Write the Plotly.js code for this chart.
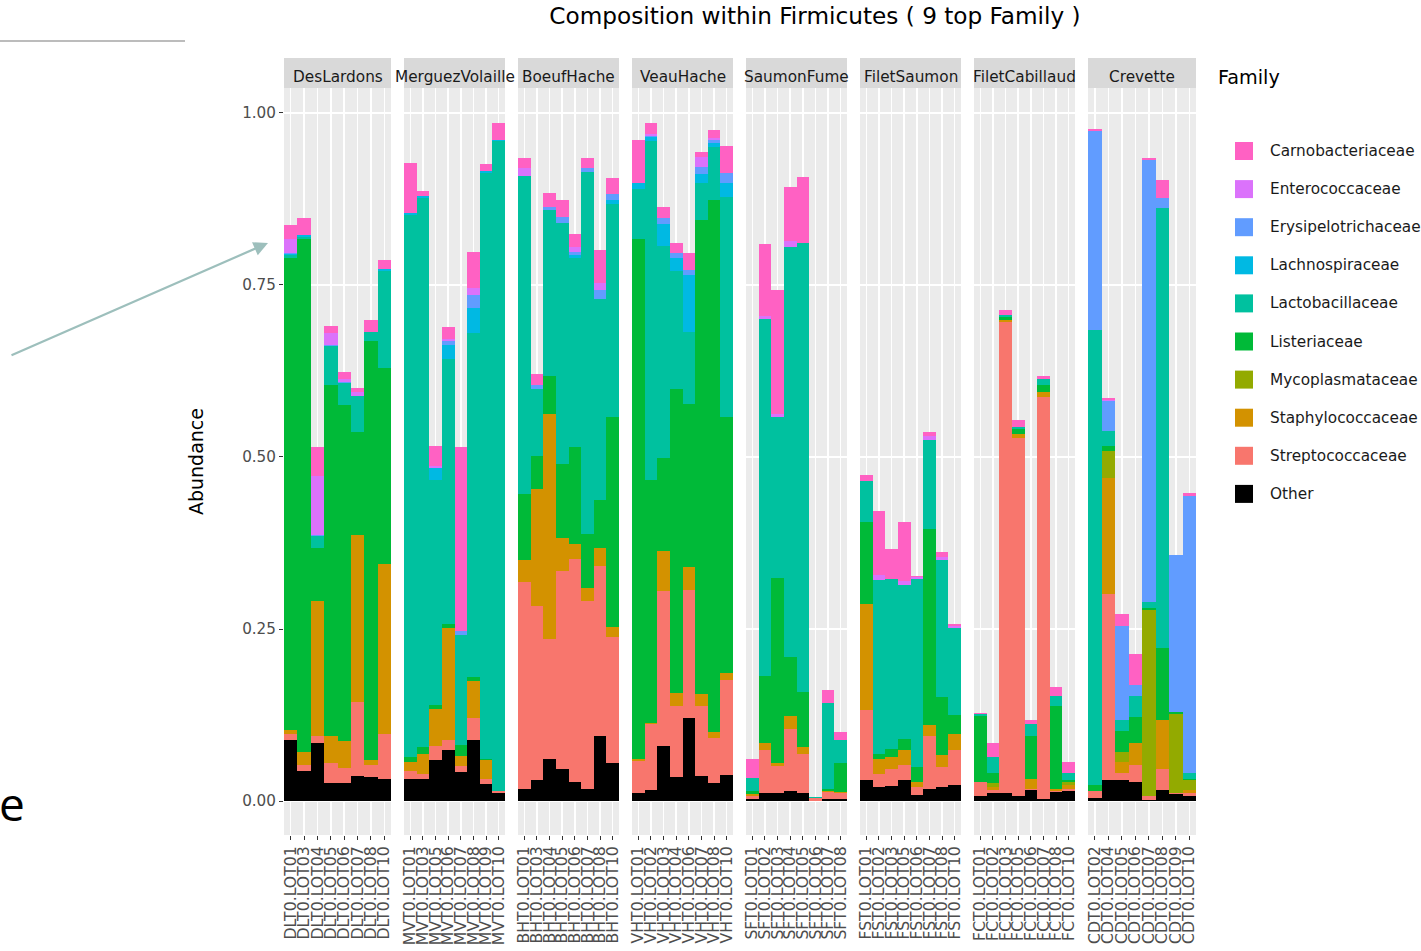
<!DOCTYPE html>
<html>
<head>
<meta charset="utf-8">
<script src="https://cdn.plot.ly/plotly-3.0.1.min.js"></script>
<style>html,body{margin:0;padding:0;background:#fff;}#chart{width:1421px;height:951px;}</style>
</head>
<body>
<div id="chart"></div>
<script>
// ---------------- DATA ----------------
const facets = ["DesLardons","MerguezVolaille","BoeufHache","VeauHache","SaumonFume","FiletSaumon","FiletCabillaud","Crevette"];

const samples = [
 "DLT0.LOT01","DLT0.LOT03","DLT0.LOT04","DLT0.LOT05","DLT0.LOT06","DLT0.LOT07","DLT0.LOT08","DLT0.LOT10",
 "MVT0.LOT01","MVT0.LOT03","MVT0.LOT05","MVT0.LOT06","MVT0.LOT07","MVT0.LOT08","MVT0.LOT09","MVT0.LOT10",
 "BHT0.LOT01","BHT0.LOT03","BHT0.LOT04","BHT0.LOT05","BHT0.LOT06","BHT0.LOT07","BHT0.LOT08","BHT0.LOT10",
 "VHT0.LOT01","VHT0.LOT02","VHT0.LOT03","VHT0.LOT04","VHT0.LOT06","VHT0.LOT07","VHT0.LOT08","VHT0.LOT10",
 "SFT0.LOT01","SFT0.LOT02","SFT0.LOT03","SFT0.LOT04","SFT0.LOT05","SFT0.LOT06","SFT0.LOT07","SFT0.LOT08",
 "FST0.LOT01","FST0.LOT02","FST0.LOT03","FST0.LOT05","FST0.LOT06","FST0.LOT07","FST0.LOT08","FST0.LOT10",
 "FCT0.LOT01","FCT0.LOT02","FCT0.LOT03","FCT0.LOT05","FCT0.LOT06","FCT0.LOT07","FCT0.LOT08","FCT0.LOT10",
 "CDT0.LOT02","CDT0.LOT04","CDT0.LOT05","CDT0.LOT06","CDT0.LOT07","CDT0.LOT08","CDT0.LOT09","CDT0.LOT10"
];

// Legend order (top to bottom)
const families = ["Carnobacteriaceae","Enterococcaceae","Erysipelotrichaceae","Lachnospiraceae","Lactobacillaceae","Listeriaceae","Mycoplasmataceae","Staphylococcaceae","Streptococcaceae","Other"];
const familyColors = ["#FF61C3","#DB72FB","#619CFF","#00B9E3","#00C19F","#00BA38","#93AA00","#D39200","#F8766D","#000000"];

// values per family, samples in the order above
const other = [
 .089,.044,.084,.026,.026,.037,.035,.032,
 .032,.032,.059,.074,.042,.089,.025,.011,
 .018,.030,.061,.046,.028,.018,.094,.055,
 .011,.016,.080,.035,.120,.036,.026,.038,
 .003,.011,.011,.014,.011,0,.003,.003,
 .030,.020,.022,.030,.009,.018,.020,.023,
 .007,.011,.012,.007,.016,.003,.013,.014,
 .005,.030,.030,.028,.002,.016,.010,.007];
const streptococcaceae = [
 .008,.009,.010,.029,.022,.107,.018,.065,
 .011,.007,.021,.014,.009,.031,.007,.004,
 .300,.253,.175,.288,.324,.273,.248,.183,
 .047,.096,.225,.103,.186,.102,.065,.138,
 .005,.063,.040,.091,.058,.004,.010,.008,
 .102,.019,.024,.023,.011,.077,.029,.051,
 .021,.005,.684,.521,.002,.584,.002,.004,
 .009,.271,.011,.025,.005,.030,.002,.004];
const staphylococcaceae = [
 .006,.018,.197,.039,.039,.243,.006,.248,
 .013,.029,.054,.164,.015,.054,.027,0,
 .033,.170,.327,.048,.021,.018,.026,.015,
 .003,.002,.059,.019,.034,.017,.009,.010,
 .002,.010,.004,.019,.010,0,.002,.002,
 .154,.022,.018,.021,.008,.015,.018,.023,
 0,.004,.003,.005,.014,.008,.002,.005,
 0,.169,.015,.031,0,.072,0,.005];
const mycoplasmataceae = [
 0,0,0,0,0,0,0,0,
 0,0,0,0,0,0,0,0,
 0,0,0,0,0,0,0,0,
 0,0,0,0,0,0,0,0,
 0,0,0,0,0,0,0,0,
 0,0,0,0,0,0,0,0,
 0,.006,0,0,0,0,0,.004,
 0,.038,.015,0,.271,0,.115,.014];
const listeriaceae = [
 .686,.746,.077,.511,.489,.149,.609,.285,
 .008,.010,.006,.005,.016,.006,.002,0,
 .095,.049,.054,.108,.142,.079,.070,.305,
 .756,.353,.134,.442,.237,.689,.773,.372,
 .004,.097,.269,.086,.079,0,.002,.042,
 .120,.007,.012,.016,.021,.286,.084,.028,
 .096,.015,.004,.008,.062,.009,.121,.003,
 .009,.008,.031,.038,.003,.104,.003,.002];
const lactobacillaceae = [
 .004,.003,.017,.056,.031,.052,.013,.140,
 .787,.799,.327,.386,.160,.500,.852,.944,
 .463,.097,.242,.350,.274,.526,.292,.309,
 .073,.492,.309,.171,.105,.054,.078,.320,
 .019,.520,.234,.595,.653,.002,.126,.034,
 .059,.253,.246,.224,.273,.128,.199,.126,
 .002,.023,.003,.002,.018,.010,.015,.011,
 .661,.022,.016,.031,.008,.640,0,.009];
const lachnospiraceae = [
 .002,.003,0,0,0,0,0,.003,
 .004,.003,.017,.020,0,.036,.002,.002,
 0,0,0,0,.005,0,0,.006,
 .008,.006,.031,.019,.082,.013,.006,.020,
 0,0,0,0,0,0,0,0,
 0,0,0,0,0,0,0,0,
 0,0,0,0,0,0,0,0,
 0,0,0,0,0,0,0,0];
const erysipelotrichaceae = [
 .001,0,.002,.002,.002,0,0,0,
 0,0,0,.005,.005,.020,0,0,
 0,.005,.005,.009,.004,.006,.013,.009,
 0,.002,.009,.007,.008,.010,.004,.015,
 0,0,0,0,0,0,0,0,
 0,0,0,0,0,0,0,0,
 0,0,0,0,0,0,0,0,
 .290,.043,.137,.015,.643,.014,.227,.403];
const enterococcaceae = [
 .021,0,.085,.017,.004,.006,0,0,
 0,0,.003,.004,0,.009,0,0,
 .011,0,0,0,.007,0,.010,0,
 0,.003,0,0,0,.015,.002,0,
 0,.004,.005,.009,0,0,0,0,
 0,.007,0,.006,.003,.006,.005,.003,
 0,0,0,0,0,0,0,0,
 0,.002,0,0,0,0,0,0];
const carnobacteriaceae = [
 .020,.024,.043,.010,.011,.006,.018,.014,
 .073,.006,.029,.017,.268,.053,.011,.024,
 .014,.016,.020,.025,.019,.014,.048,.023,
 .063,.015,.017,.015,.024,.007,.012,.039,
 .028,.104,.179,.079,.096,0,.018,.012,
 .009,.093,.044,.086,.002,.006,.007,.003,
 .002,.020,.007,.011,.006,.004,.013,.016,
 .002,.003,.017,.046,.002,.027,0,.003];

const yTicks = [0, 0.25, 0.5, 0.75, 1];

// ---------------- LAYOUT HELPERS ----------------
const W = 1421, H = 951;
const PL = 284, PR = 1196, PT = 88, PB = 835;
const fx = p => (p - PL) / (PR - PL);
const fy = p => (PB - p) / (PB - PT);
const panelPx = [[284,391],[404,505],[518,619],[632,733],[746,847],[860,961],[974,1075],[1088,1196]];
const FONT = "Verdana, DejaVu Sans, sans-serif";

// stacking order, bottom to top
const stackOrder = [
 ["Other", other],
 ["Streptococcaceae", streptococcaceae],
 ["Staphylococcaceae", staphylococcaceae],
 ["Mycoplasmataceae", mycoplasmataceae],
 ["Listeriaceae", listeriaceae],
 ["Lactobacillaceae", lactobacillaceae],
 ["Lachnospiraceae", lachnospiraceae],
 ["Erysipelotrichaceae", erysipelotrichaceae],
 ["Enterococcaceae", enterococcaceae],
 ["Carnobacteriaceae", carnobacteriaceae]
];
const per = samples.length / facets.length;

const traces = [];
stackOrder.forEach(([fam, vals]) => {
  const color = familyColors[families.indexOf(fam)];
  facets.forEach((fac, i) => {
    traces.push({
      type: "bar",
      name: fam,
      legendgroup: fam,
      showlegend: false,
      x: samples.slice(i * per, (i + 1) * per),
      y: vals.slice(i * per, (i + 1) * per),
      xaxis: i === 0 ? "x" : "x" + (i + 1),
      yaxis: "y",
      width: 1,
      marker: { color: color, line: { width: 0 } },
      hovertemplate: fac + "<br>%{x}<br>" + fam + ": %{y:.3f}<extra></extra>"
    });
  });
});

const layout = {
  width: W, height: H,
  margin: { l: PL, r: W - PR, t: PT, b: H - PB, pad: 0 },
  paper_bgcolor: "#ffffff",
  plot_bgcolor: "#ebebeb",
  barmode: "stack",
  bargap: 0,
  showlegend: false,
  font: { family: FONT, color: "#000000" },
  title: {
    text: "Composition within Firmicutes ( 9 top Family )",
    font: { family: FONT, size: 23.2, color: "#000000" },
    xref: "paper", x: fx(815), xanchor: "center",
    yref: "container", y: 1 - 16 / H, yanchor: "middle"
  },
  yaxis: {
    domain: [0, 1], anchor: "x",
    range: [-0.0494, 1.0363],
    tickmode: "array", tickvals: yTicks, tickformat: ".2f",
    ticks: "outside", ticklen: 4, tickwidth: 1, tickcolor: "#333333",
    tickfont: { family: FONT, size: 15.2, color: "#4d4d4d" },
    showgrid: true, gridcolor: "#ffffff", gridwidth: 1.5,
    zeroline: false, showline: false, fixedrange: true,
    title: { text: "Abundance", font: { family: FONT, size: 19, color: "#000000" }, standoff: 33 }
  },
  shapes: [],
  annotations: []
};

facets.forEach((fac, i) => {
  const key = i === 0 ? "xaxis" : "xaxis" + (i + 1);
  const cats = samples.slice(i * per, (i + 1) * per);
  layout[key] = {
    domain: [fx(panelPx[i][0]), fx(panelPx[i][1])],
    anchor: "y",
    type: "category",
    categoryorder: "array", categoryarray: cats,
    range: [-0.5, per - 0.5],
    tickmode: "array", tickvals: cats, ticktext: cats,
    tickangle: -90,
    ticks: "outside", ticklen: 4, tickwidth: 1, tickcolor: "#333333",
    tickfont: { family: FONT, size: 15.7, color: "#4d4d4d" },
    showgrid: true, gridcolor: "#ffffff", gridwidth: 1.5,
    zeroline: false, showline: false, fixedrange: true
  };
  // strip
  layout.shapes.push({
    type: "rect", xref: "paper", yref: "paper",
    x0: fx(panelPx[i][0]), x1: fx(panelPx[i][1]), y0: fy(88), y1: fy(58),
    fillcolor: "#d9d9d9", line: { width: 0 }
  });
  layout.annotations.push({
    text: fac, xref: "paper", yref: "paper",
    x: fx((panelPx[i][0] + panelPx[i][1]) / 2), y: fy(76.5),
    xanchor: "center", yanchor: "middle", showarrow: false,
    font: { family: FONT, size: 15.3, color: "#1a1a1a" }
  });
});

// legend (drawn manually, ggplot style)
layout.annotations.push({
  text: "Family", xref: "paper", yref: "paper", x: fx(1216), y: fy(77),
  xanchor: "left", yanchor: "middle", showarrow: false,
  font: { family: FONT, size: 19.2, color: "#000000" }
});
families.forEach((fam, k) => {
  const cy = 151 + k * 38.1;
  layout.shapes.push({
    type: "rect", xref: "paper", yref: "paper",
    x0: fx(1235), x1: fx(1253), y0: fy(cy + 9), y1: fy(cy - 9),
    fillcolor: familyColors[k], line: { width: 0 }
  });
  layout.annotations.push({
    text: fam, xref: "paper", yref: "paper", x: fx(1268), y: fy(cy),
    xanchor: "left", yanchor: "middle", showarrow: false,
    font: { family: FONT, size: 15.3, color: "#1a1a1a" }
  });
});

// stray elements from the source screenshot
layout.shapes.push({
  type: "line", xref: "paper", yref: "paper",
  x0: fx(0), x1: fx(185), y0: fy(41), y1: fy(41),
  line: { color: "#a6a6a6", width: 1.5 }
});
layout.annotations.push({
  text: "", xref: "paper", yref: "paper", x: fx(268), y: fy(243),
  showarrow: true, ax: -258, ay: 113, axref: "pixel", ayref: "pixel",
  arrowhead: 2, arrowsize: 1.3, arrowwidth: 2.2, arrowcolor: "#9dbfbc"
});
layout.annotations.push({
  text: "e", xref: "paper", yref: "paper", x: fx(-3), y: fy(803),
  xanchor: "left", yanchor: "middle", showarrow: false,
  font: { family: "Open Sans, Noto Sans, sans-serif", size: 46, color: "#000000" }
});

Plotly.newPlot("chart", traces, layout, { displayModeBar: false, staticPlot: true });
</script>
</body>
</html>
